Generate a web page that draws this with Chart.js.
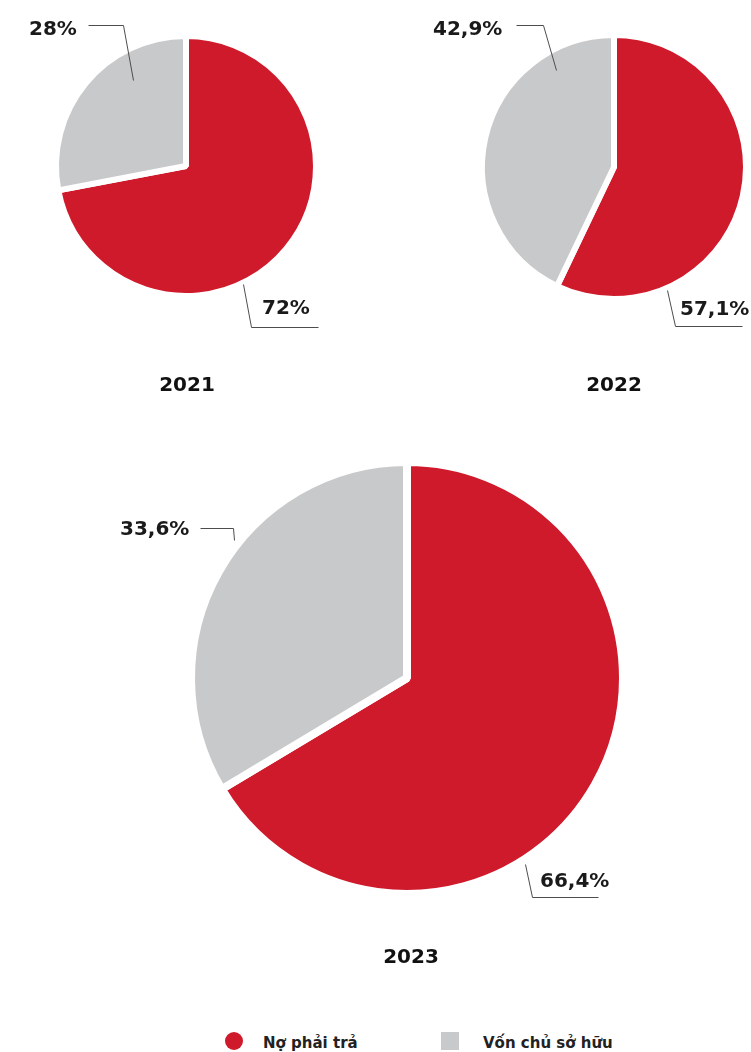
<!DOCTYPE html>
<html>
<head>
<meta charset="utf-8">
<script src="https://cdn.jsdelivr.net/npm/chart.js@4.4.1/dist/chart.umd.min.js"></script>
<style>
  html, body { margin: 0; padding: 0; background: #fff; }
  body { width: 751px; height: 1052px; position: relative; overflow: hidden; font-family: "DejaVu Sans", sans-serif; }
  .pie { position: absolute; }
  .legend-text { position: absolute; top: 1034px; font: bold 15px/18px "DejaVu Sans", sans-serif; color: #222; white-space: nowrap; }
  .marker { position: absolute; top: 1032px; width: 18px; height: 18px; }
</style>
</head>
<body>
<div class="pie" id="box0"><canvas id="pie0"></canvas></div>
<div class="pie" id="box1"><canvas id="pie1"></canvas></div>
<div class="pie" id="box2"><canvas id="pie2"></canvas></div>
<div id="legend"></div>

<script>
// Capital structure by year: liabilities vs. owners' equity (%)
const years = ['2021', '2022', '2023'];
const categories = ['Nợ phải trả', 'Vốn chủ sở hữu'];
const noPhaiTra = [72, 57.1, 66.4];
const vonChuSoHuu = [28, 42.9, 33.6];

const colors = ['#cf1a2b', '#c8c9cb'];
const markerShapes = ['circle', 'square'];

// Page layout of each pie: canvas box, pie centre, visible radius, slice gap
const layouts = [
  { box: { x: 0, y: 0, w: 375, h: 420 }, cx: 186, cy: 166, r: 127, gap: 6,
    year: { x: 187, y: 386 },
    labels: [
      { index: 1, x: 29, y: 30, leader: [[88, 25], [123, 25], [133, 80]] },
      { index: 0, x: 262, y: 309, leader: [[243, 284], [251, 327], [318, 327]] }
    ] },
  { box: { x: 375, y: 0, w: 376, h: 420 }, cx: 614, cy: 167, r: 129, gap: 6,
    year: { x: 614, y: 386 },
    labels: [
      { index: 1, x: 433, y: 30, leader: [[516, 25], [543, 25], [556, 70]] },
      { index: 0, x: 680, y: 310, leader: [[667, 290], [675, 326], [742, 326]] }
    ] },
  { box: { x: 0, y: 420, w: 751, h: 600 }, cx: 407, cy: 678, r: 212, gap: 8,
    year: { x: 411, y: 958 },
    labels: [
      { index: 1, x: 120, y: 530, leader: [[200, 528], [233, 528], [234, 540]] },
      { index: 0, x: 540, y: 882, leader: [[525, 864], [532, 897], [598, 897]] }
    ] }
];

function fmtPct(v) {
  return String(v).replace('.', ',') + '%';
}

// Draws percentage call-outs with leader lines and the year caption under each pie
const sliceLabels = {
  id: 'sliceLabels',
  afterDraw(chart, args, opts) {
    const { ctx } = chart;
    const values = chart.data.datasets[0].data;
    ctx.save();
    ctx.translate(-opts.box.x, -opts.box.y);
    ctx.strokeStyle = '#4d4d4d';
    ctx.lineWidth = 1;
    opts.labels.forEach(l => {
      ctx.beginPath();
      l.leader.forEach((p, i) => {
        const px = p[0] + 0.5, py = p[1] + 0.5;
        if (i === 0) ctx.moveTo(px, py); else ctx.lineTo(px, py);
      });
      ctx.stroke();
      ctx.font = 'bold 20px "DejaVu Sans", sans-serif';
      ctx.fillStyle = '#1a1a1a';
      ctx.textAlign = 'left';
      ctx.textBaseline = 'middle';
      ctx.fillText(fmtPct(values[l.index]), l.x, l.y);
    });
    ctx.font = 'bold 20px "DejaVu Sans", sans-serif';
    ctx.fillStyle = '#111';
    ctx.textAlign = 'center';
    ctx.textBaseline = 'middle';
    ctx.fillText(opts.year, opts.yearPos.x, opts.yearPos.y);
    ctx.restore();
  }
};

years.forEach((year, i) => {
  const L = layouts[i];
  const boxEl = document.getElementById('box' + i);
  boxEl.style.left = L.box.x + 'px';
  boxEl.style.top = L.box.y + 'px';
  boxEl.style.width = L.box.w + 'px';
  boxEl.style.height = L.box.h + 'px';

  // square chart area sized so the visible pie edge sits at radius r
  const side = 2 * L.r + 2 * L.gap;
  const left = L.cx - L.box.x - side / 2;
  const top = L.cy - L.box.y - side / 2;
  const padding = {
    left: left,
    top: top,
    right: L.box.w - left - side,
    bottom: L.box.h - top - side
  };

  new Chart(document.getElementById('pie' + i), {
    type: 'pie',
    data: {
      labels: categories,
      datasets: [{
        data: [noPhaiTra[i], vonChuSoHuu[i]],
        backgroundColor: colors,
        borderColor: '#ffffff',
        borderWidth: L.gap,
        hoverOffset: 0
      }]
    },
    options: {
      responsive: true,
      maintainAspectRatio: false,
      animation: false,
      layout: { padding: padding },
      plugins: {
        legend: { display: false },
        tooltip: { enabled: false },
        sliceLabels: {
          box: L.box,
          labels: L.labels,
          year: year,
          yearPos: L.year
        }
      }
    },
    plugins: [sliceLabels]
  });
});

// Shared legend under the charts
const legendPos = [{ marker: 225, text: 263 }, { marker: 441, text: 483 }];
const legendEl = document.getElementById('legend');
categories.forEach((name, i) => {
  const m = document.createElement('div');
  m.className = 'marker';
  m.style.left = legendPos[i].marker + 'px';
  m.style.background = colors[i];
  if (markerShapes[i] === 'circle') m.style.borderRadius = '50%';
  legendEl.appendChild(m);
  const t = document.createElement('div');
  t.className = 'legend-text';
  t.style.left = legendPos[i].text + 'px';
  t.textContent = name;
  legendEl.appendChild(t);
});
</script>
</body>
</html>
